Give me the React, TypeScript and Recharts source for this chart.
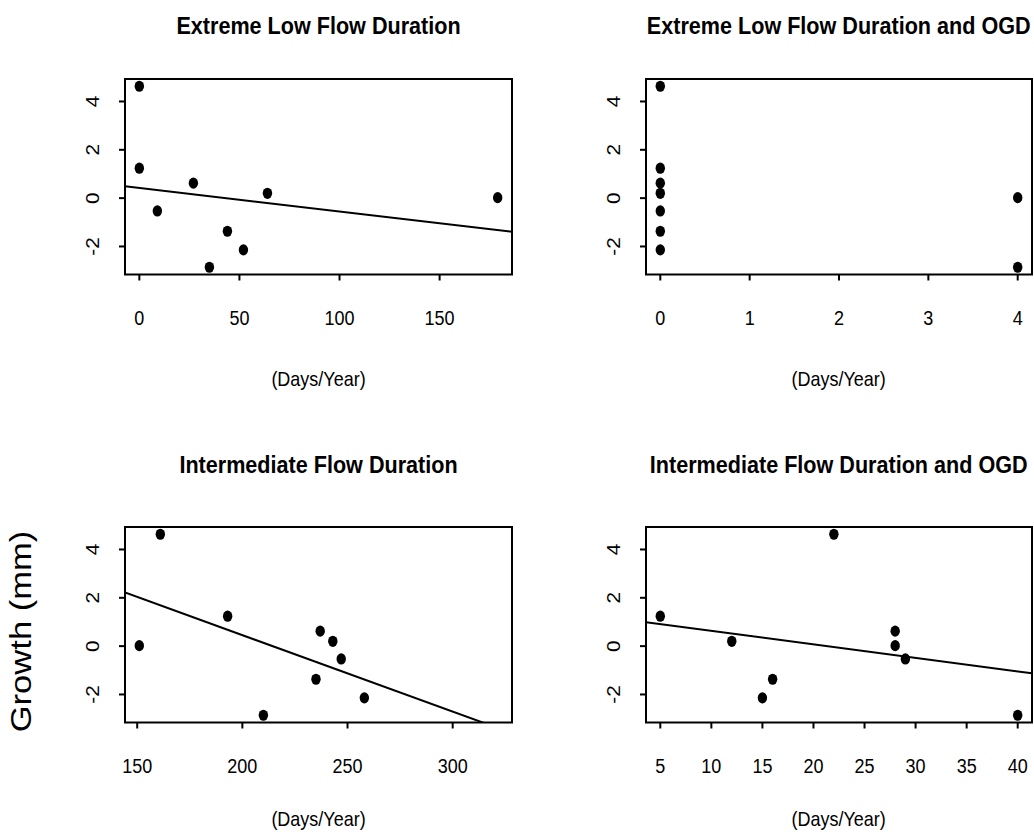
import { ScatterChart, Scatter, XAxis, YAxis, ReferenceLine, ReferenceArea } from 'recharts';

// growth of each sample (mm), same order in every panel
const growth = [4.63, 1.24, 0.62, 0.2, 0.02, -0.53, -1.37, -2.14, -2.86];

// days/year for each panel
const extremeLowDays = [0, 0, 27, 64, 179, 9, 44, 52, 35];
const extremeLowOgdDays = [0, 0, 0, 0, 4, 0, 0, 0, 4];
const intermediateDays = [161, 193, 237, 243, 151, 247, 235, 258, 210];
const intermediateOgdDays = [22, 5, 28, 12, 28, 29, 16, 15, 40];

const yTicks = [-2, 0, 2, 4];
const ticksExtremeLow = [0, 50, 100, 150];
const ticksExtremeLowOgd = [0, 1, 2, 3, 4];
const ticksIntermediate = [150, 200, 250, 300];
const ticksIntermediateOgd = [5, 10, 15, 20, 25, 30, 35, 40];

const FONT = '"Liberation Sans", Arial, Helvetica, sans-serif';
const Y_DOMAIN: [number, number] = [-3.16, 4.93];

// least squares line, like abline(lm(y ~ x))
const fit = (xs: number[], ys: number[]) => {
  const n = xs.length;
  const mx = xs.reduce((a, b) => a + b, 0) / n;
  const my = ys.reduce((a, b) => a + b, 0) / n;
  let sxy = 0;
  let sxx = 0;
  xs.forEach((x, i) => {
    sxy += (x - mx) * (ys[i] - my);
    sxx += (x - mx) * (x - mx);
  });
  const slope = sxy / sxx;
  return { slope, intercept: my - slope * mx };
};

const Dot = (p: any) => <ellipse cx={p.cx} cy={p.cy} rx={4.7} ry={5.6} fill="#000" />;

const XTick = ({ x, y, payload }: any) => (
  <text transform={`translate(${x},${y + 44}) scale(1,1.15)`} textAnchor="middle" fontSize={18} fontFamily={FONT} fill="#000">
    {payload.value}
  </text>
);

const YTick = ({ x, y, payload }: any) => (
  <text transform={`translate(${x - 20},${y}) scale(1,1.15) rotate(-90)`} textAnchor="middle" fontSize={18} fontFamily={FONT} fill="#000">
    {payload.value}
  </text>
);

type PanelProps = {
  left: number;
  top: number;
  width: number;
  height: number;
  xs: number[];
  xDomain: [number, number];
  xTicks: number[];
  showFit: boolean;
};

const Panel = ({ left, top, width, height, xs, xDomain, xTicks, showFit }: PanelProps) => {
  const data = xs.map((x, i) => ({ x, y: growth[i] }));
  const { slope, intercept } = fit(xs, growth);
  return (
    <div style={{ position: 'absolute', left: left - 70, top: top - 10 }}>
      <ScatterChart width={width + 72} height={height + 70} margin={{ top: 10, right: 2, bottom: 0, left: 0 }}>
        <XAxis
          type="number"
          dataKey="x"
          domain={xDomain}
          ticks={xTicks}
          interval={0}
          allowDataOverflow
          axisLine={false}
          tickLine={{ stroke: '#000', strokeWidth: 2 }}
          tickSize={6}
          tickMargin={0}
          height={60}
          tick={<XTick />}
        />
        <YAxis
          type="number"
          dataKey="y"
          domain={Y_DOMAIN}
          ticks={yTicks}
          interval={0}
          allowDataOverflow
          axisLine={false}
          tickLine={{ stroke: '#000', strokeWidth: 2 }}
          tickSize={6}
          tickMargin={0}
          width={70}
          tick={<YTick />}
        />
        <ReferenceArea
          x1={xDomain[0]}
          x2={xDomain[1]}
          y1={Y_DOMAIN[0]}
          y2={Y_DOMAIN[1]}
          fill="none"
          stroke="#000"
          strokeWidth={2}
          ifOverflow="visible"
        />
        {showFit && (
          <ReferenceLine
            segment={[
              { x: xDomain[0], y: intercept + slope * xDomain[0] },
              { x: xDomain[1], y: intercept + slope * xDomain[1] },
            ]}
            stroke="#000"
            strokeWidth={2}
            ifOverflow="hidden"
          />
        )}
        <Scatter data={data} shape={<Dot />} isAnimationActive={false} />
      </ScatterChart>
    </div>
  );
};

const txt = (x: number, y: number, s: string, size: number, bold = false, sy = 1.15) => (
  <text transform={`translate(${x},${y}) scale(1,${sy})`} textAnchor="middle" fontSize={size} fontWeight={bold ? 'bold' : 'normal'} fontFamily={FONT} fill="#000">
    {s}
  </text>
);

export default function App() {
  const L = 125;
  const R = 645.7;
  const T1 = 79.2;
  const T2 = 526.8;
  const H = 195.5;
  const cL = L + 387 / 2;
  const cR = R + 386 / 2;
  return (
    <div style={{ position: 'absolute', left: 0, top: 0, width: 1034, height: 835, background: '#fff', overflow: 'hidden' }}>
      <Panel left={L} top={T1} width={387} height={H} xs={extremeLowDays} xDomain={[-7.16, 186.16]} xTicks={ticksExtremeLow} showFit />
      <Panel left={R} top={T1} width={386} height={H} xs={extremeLowOgdDays} xDomain={[-0.16, 4.16]} xTicks={ticksExtremeLowOgd} showFit={false} />
      <Panel left={L} top={T2} width={387} height={H} xs={intermediateDays} xDomain={[144.2, 328.2]} xTicks={ticksIntermediate} showFit />
      <Panel left={R} top={T2} width={386} height={H} xs={intermediateOgdDays} xDomain={[3.6, 41.4]} xTicks={ticksIntermediateOgd} showFit />
      <svg width={1034} height={835} style={{ position: 'absolute', left: 0, top: 0, pointerEvents: 'none' }}>
        {txt(cL, 34, 'Extreme Low Flow Duration', 21.6, true, 1.1)}
        {txt(cR, 34, 'Extreme Low Flow Duration and OGD', 21.6, true, 1.1)}
        {txt(cL, 473, 'Intermediate Flow Duration', 21.6, true, 1.1)}
        {txt(cR, 473, 'Intermediate Flow Duration and OGD', 21.6, true, 1.1)}
        {txt(cL, 386, '(Days/Year)', 18)}
        {txt(cR, 386, '(Days/Year)', 18)}
        {txt(cL, 826, '(Days/Year)', 18)}
        {txt(cR, 826, '(Days/Year)', 18)}
        <text transform="translate(30.7,631.5) scale(1,1.2) rotate(-90)" textAnchor="middle" fontSize={28.8} fontFamily={FONT} fill="#000">
          Growth (mm)
        </text>
      </svg>
    </div>
  );
}
